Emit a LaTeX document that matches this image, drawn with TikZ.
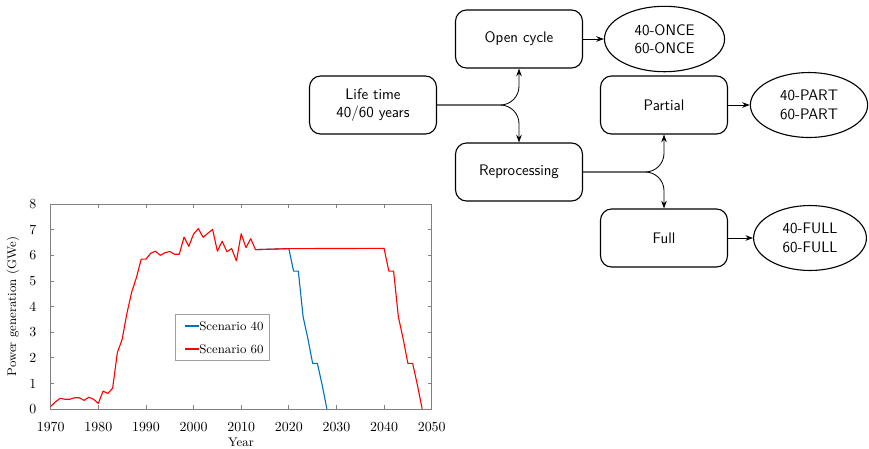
\documentclass[tikz,border=0pt]{standalone}
\usepackage{tikz}
\usetikzlibrary{arrows.meta,shapes.geometric}
\definecolor{plotblue}{HTML}{0072BD}
\definecolor{plotred}{HTML}{FF0000}
\definecolor{axisgray}{HTML}{808080}
\definecolor{legendgray}{HTML}{A0A0A0}
\tikzset{
  flowfont/.style={font=\sffamily\fontsize{11}{13.2}\selectfont},
  box/.style={flowfont, draw, rounded corners=8pt, line width=0.8pt, minimum width=91.4pt, minimum height=41.8pt, align=center},
  case/.style={flowfont, draw, ellipse, line width=0.8pt, inner xsep=9pt, inner ysep=6pt, align=center},
  link/.style={-{Stealth[length=5.5pt,width=4pt]}, line width=0.6pt},
  branch/.style={link, rounded corners=13.5pt},
  axisframe/.style={draw=axisgray, line width=0.5pt},
  ticklab/.style={font=\fontsize{10}{12}\selectfont},
  plotlab/.style={font=\fontsize{9}{11}\selectfont},
  series40/.style={draw=plotblue, line width=0.8pt, line join=round},
  series60/.style={draw=plotred, line width=0.8pt, line join=round}
}
\begin{document}
\begin{tikzpicture}[x=0.72pt,y=-0.72pt]
  \useasboundingbox (0,0) rectangle (869,448);

  % flow chart
  \node[box] (life) at (373,105) {Life time\\40/60 years};
  \node[box] (open) at (519,39) {Open cycle};
  \node[box] (repro) at (519,172) {Reprocessing};
  \node[box] (part) at (664,105) {Partial};
  \node[box] (full) at (664,238) {Full};
  \node[case] (once) at (664.5,39) {40-ONCE\\60-ONCE};
  \node[case] (partcase) at (809,105) {40-PART\\60-PART};
  \node[case] (fullcase) at (810,238) {40-FULL\\60-FULL};

  \draw[branch] (life.east) -| (open.south);
  \draw[branch] (life.east) -| (repro.north);
  \draw[branch] (repro.east) -| (part.south);
  \draw[branch] (repro.east) -| (full.north);
  \draw[link] (open) -- (once);
  \draw[link] (part) -- (partcase);
  \draw[link] (full) -- (fullcase);

  % power generation plot
  \begin{scope}[shift={(36.5pt,-294.5pt)},x=3.429pt,y=18.45pt]
    \draw[axisframe] (0,0) rectangle (80,8);
    \foreach \t in {0,10,...,80} {
      \pgfmathtruncatemacro\yr{1970+\t}
      \draw[axisframe] (\t,0) -- ++(0,0.14);
      \draw[axisframe] (\t,8) -- ++(0,-0.14);
      \node[ticklab, below=6.2pt] (xt\t) at (\t,0) {\yr};
    }
    \foreach \v in {0,...,8} {
      \draw[axisframe] (0,\v) -- ++(0.75,0);
      \draw[axisframe] (80,\v) -- ++(-0.75,0);
      \node[ticklab, left=6.8pt] (yt\v) at (0,\v) {\v};
    }
    \draw[series40] (43,6.22) -- (50,6.26) -- (51,5.38) -- (52,5.38) -- (53,3.60)
      -- (54,2.75) -- (55,1.78) -- (56,1.78) -- (57,0.94) -- (58,0);
    \draw[series60] (0,0.10) -- (1,0.28) -- (2,0.42) -- (3,0.38) -- (4,0.38)
      -- (5,0.44) -- (6,0.44) -- (7,0.34) -- (8,0.46) -- (9,0.38) -- (10,0.22)
      -- (11,0.70) -- (12,0.61) -- (13,0.81) -- (14,2.20) -- (15,2.72)
      -- (16,3.73) -- (17,4.56) -- (18,5.13) -- (19,5.85) -- (20,5.85)
      -- (21,6.08) -- (22,6.16) -- (23,6.00) -- (24,6.10) -- (25,6.15)
      -- (26,6.04) -- (27,6.04) -- (28,6.71) -- (29,6.35) -- (30,6.83)
      -- (31,7.04) -- (32,6.70) -- (33,6.86) -- (34,7.01) -- (35,6.16)
      -- (36,6.55) -- (37,6.14) -- (38,6.26) -- (39,5.78) -- (40,6.84)
      -- (41,6.30) -- (42,6.65) -- (43,6.22) -- (50,6.26) -- (70,6.27)
      -- (71,5.38) -- (72,5.38) -- (73,3.60) -- (74,2.75) -- (75,1.78)
      -- (76,1.78) -- (77,0.94) -- (78,0);
  \end{scope}

  \node[plotlab, anchor=north, inner sep=0] (xlabel) at (241,438) {Year};
  \node[plotlab, rotate=90] (ylabel) at (13,306.5) {Power generation (GWe)};

  % legend
  \draw[draw=legendgray, fill=white, line width=0.5pt] (175.7,314) rectangle (269,360.7);
  \coordinate (l40a) at (185,326);
  \coordinate (l60a) at (185,349);
  \node[plotlab, anchor=west, inner sep=0] (l40) at (199,326) {Scenario 40};
  \node[plotlab, anchor=west, inner sep=0] (l60) at (199,349) {Scenario 60};
  \draw[series40] (l40a) -- (l40.west);
  \draw[series60] (l60a) -- (l60.west);
\end{tikzpicture}
\end{document}
